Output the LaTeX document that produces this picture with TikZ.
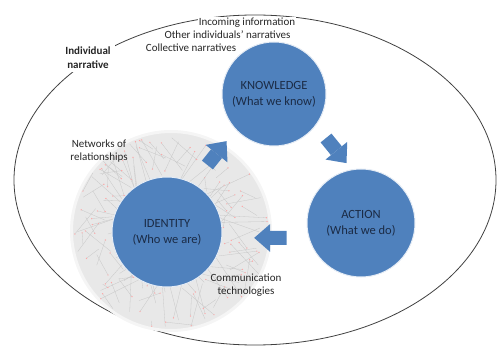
\documentclass[tikz,border=0pt]{standalone}
\usepackage{fontspec}
\setmainfont{Carlito}
\usetikzlibrary{arrows.meta}
\definecolor{bubblue}{HTML}{4F81BD}
\definecolor{bubtext}{HTML}{1B2B45}
\definecolor{ringgray}{HTML}{E8E8E8}

\begin{document}
\begin{tikzpicture}[x=1pt,y=1pt,line join=round,
	bubble/.style={circle,fill=bubblue,draw=white!85!bubblue,line width=1pt,inner sep=0pt,text=bubtext,align=center,font=\fontsize{12.5}{16}\selectfont},
	lbl/.style={align=center,inner sep=1pt,text=black!85,font=\fontsize{11}{13}\selectfont},
	fat/.style={draw=bubblue,line width=14pt,-{Triangle[length=16pt,width=28pt,line width=0pt]}},
	netline/.style={black!22,line width=.3pt},
	netdot/.style={red!35}]
	\useasboundingbox (0,0) rectangle (497,348);
	% outer narrative
	\draw[black!75,line width=.8pt] (255,168) ellipse (241 and 165);
	\node[lbl,fill=white,inner sep=4pt,font=\fontsize{11}{14}\selectfont\bfseries] (indiv) at (88,290.5) {Individual\\narrative};
	\foreach \nm/\x/\y/\t in {coll/191/300/Collective narratives,oth/227.5/313/Other individuals’ narratives,inc/247/325.5/Incoming information}
		\node[lbl,fill=white] (\nm) at (\x,\y) {\t};
	% network ring
	\node[circle,fill=ringgray,draw=black!4,line width=3pt,inner sep=0pt,minimum size=199pt] (net) at (171,117) {};
	\begin{scope}
		\clip (net) circle (98);
		\pgfmathsetseed{12}
		\foreach \i in {1,...,130}{
			\pgfmathsetmacro\ta{360*rnd}
			\pgfmathsetmacro\ra{40+58*rnd}
			\pgfmathsetmacro\tb{\ta+40*rnd-20}
			\pgfmathsetmacro\rb{40+58*rnd}
			\draw[netline] ([shift={(\ta:\ra)}]net.center) -- ([shift={(\tb:\rb)}]net.center);
			\fill[netdot] ([shift={(\ta:\ra)}]net.center) circle (.7);
		}
	\end{scope}
	% circles
	\node[bubble,minimum size=104pt] (know) at (274,254) {KNOWLEDGE\\(What we know)};
	\node[bubble,minimum size=108pt] (act) at (361,125) {ACTION\\(What we do)};
	\node[bubble,minimum size=110pt] (iden) at (167,116) {IDENTITY\\(Who we are)};
	% block arrows
	\draw[fat,shorten <=23pt,shorten >=14.5pt] (iden.62) -- (know.223);
	\draw[fat,shorten <=16pt,shorten >=8pt] (know.323) -- (act.100);
	\draw[fat,shorten <=22pt,shorten >=32pt] (act.196) -- (iden.354);
	\node[lbl] (netw) at (99,197) {Networks of\\relationships};
	\node[lbl] (comm) at (246,62.5) {Communication\\technologies};
\end{tikzpicture}
\end{document}
